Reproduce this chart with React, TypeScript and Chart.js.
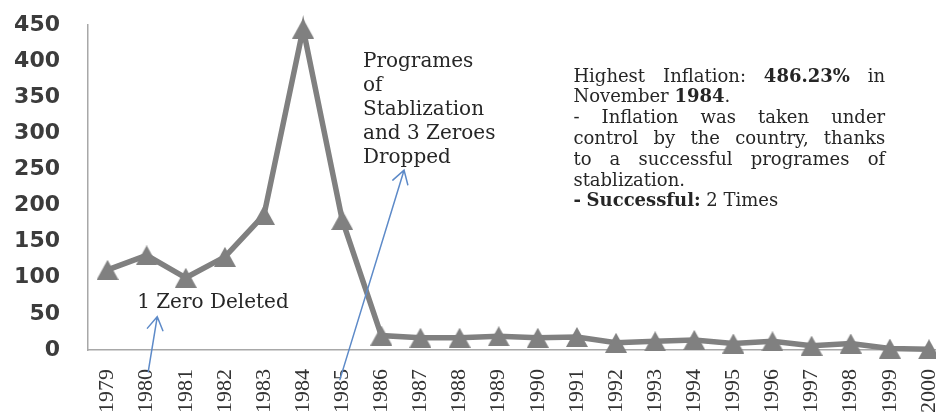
import React, { useEffect, useRef } from 'react';
import { Chart, registerables } from 'chart.js';

Chart.register(...registerables);

// ---- data ----
const years = [
  '1979', '1980', '1981', '1982', '1983', '1984', '1985', '1986', '1987', '1988', '1989',
  '1990', '1991', '1992', '1993', '1994', '1995', '1996', '1997', '1998', '1999', '2000',
];
const inflation = [111, 131, 100, 129, 187, 445, 180, 20, 17, 17, 19, 17, 18, 10, 12, 14, 9, 12, 6, 9, 2, 1];
const yTicks = [0, 50, 100, 150, 200, 250, 300, 350, 400, 450];

const zeroDeletedText = '1 Zero Deleted';
const stabilizationLines = ['Programes', 'of', 'Stablization', 'and 3 Zeroes', 'Dropped'];
const noteLines = [
  'Highest Inflation: **486.23%** in',
  'November **1984**.',
  '- Inflation was taken under',
  'control by the country, thanks',
  'to a successful programes of',
  'stablization.',
  '**- Successful:** 2 Times',
];
const noteJustify = [true, false, true, true, true, false, false];

// ---- styles ----
const LINE_COLOR = '#808080';
const AXIS_COLOR = '#a8a8a8';
const ARROW_COLOR = '#5d8ac8';
const TEXT_COLOR = '#262626';
const SERIF = '"DejaVu Serif", serif';

type Piece = { t: string; b: boolean };

function parseRich(s: string): Piece[][] {
  const words: Piece[][] = [];
  let cur: Piece[] = [];
  s.split('**').forEach((part, pi) => {
    const bold = pi % 2 === 1;
    part.split(' ').forEach((chunk, ci) => {
      if (ci > 0) {
        if (cur.length) words.push(cur);
        cur = [];
      }
      if (chunk) cur.push({ t: chunk, b: bold });
    });
  });
  if (cur.length) words.push(cur);
  return words;
}

function drawRich(ctx: CanvasRenderingContext2D, text: string, x: number, y: number, size: number, justifyWidth?: number) {
  const words = parseRich(text);
  const font = (b: boolean) => `${b ? 'bold ' : ''}${size}px ${SERIF}`;
  const widths = words.map((w) =>
    w.reduce((s, p) => {
      ctx.font = font(p.b);
      return s + ctx.measureText(p.t).width;
    }, 0)
  );
  ctx.font = font(false);
  let gap = ctx.measureText(' ').width;
  if (justifyWidth && words.length > 1) {
    gap = (justifyWidth - widths.reduce((a, b) => a + b, 0)) / (words.length - 1);
  }
  let cx = x;
  words.forEach((w) => {
    w.forEach((p) => {
      ctx.font = font(p.b);
      ctx.fillText(p.t, cx, y);
      cx += ctx.measureText(p.t).width;
    });
    cx += gap;
  });
}

function drawArrow(ctx: CanvasRenderingContext2D, x0: number, y0: number, x1: number, y1: number) {
  const a = Math.atan2(y1 - y0, x1 - x0);
  const len = 15;
  const spread = 0.55;
  ctx.beginPath();
  ctx.moveTo(x0, y0);
  ctx.lineTo(x1, y1);
  ctx.moveTo(x1 - len * Math.cos(a - spread), y1 - len * Math.sin(a - spread));
  ctx.lineTo(x1, y1);
  ctx.lineTo(x1 - len * Math.cos(a + spread), y1 - len * Math.sin(a + spread));
  ctx.stroke();
}

const notesPlugin = {
  id: 'notes',
  afterDraw(chart: any) {
    const { ctx } = chart;
    const xs = chart.scales.x;
    const ys = chart.scales.y;
    const px = (i: number) => xs.getPixelForValue(i);
    const py = (v: number) => ys.getPixelForValue(v);
    const step = px(1) - px(0);
    ctx.save();
    ctx.fillStyle = TEXT_COLOR;
    ctx.textBaseline = 'middle';
    ctx.textAlign = 'left';

    // "1 Zero Deleted"
    ctx.font = `20px ${SERIF}`;
    ctx.fillText(zeroDeletedText, px(0.756), py(65));

    // stabilization block
    stabilizationLines.forEach((line, k) => {
      ctx.font = `20px ${SERIF}`;
      ctx.fillText(line, px(6.53), py(399) + k * 24);
    });

    // right-hand note
    const noteX = px(11.91);
    const noteW = 7.97 * step;
    noteLines.forEach((line, k) => {
      drawRich(ctx, line, noteX, py(378) + k * 20.8, 18, noteJustify[k] ? noteW : undefined);
    });

    // arrows
    ctx.strokeStyle = ARROW_COLOR;
    ctx.lineWidth = 1.5;
    ctx.lineCap = 'round';
    drawArrow(ctx, px(1.04), py(-30), px(1.27), py(46));
    drawArrow(ctx, px(5.94), py(-41), px(7.58), py(249));
    ctx.restore();
  },
};

export default function App() {
  const ref = useRef<HTMLCanvasElement>(null);

  useEffect(() => {
    const tri = document.createElement('canvas');
    tri.width = 22;
    tri.height = 20;
    const tc = tri.getContext('2d')!;
    tc.fillStyle = LINE_COLOR;
    tc.beginPath();
    tc.moveTo(11, 0);
    tc.lineTo(22, 20);
    tc.lineTo(0, 20);
    tc.closePath();
    tc.fill();

    const chart = new Chart(ref.current!, {
      type: 'line',
      data: {
        labels: years,
        datasets: [
          {
            data: inflation,
            borderColor: LINE_COLOR,
            backgroundColor: LINE_COLOR,
            borderWidth: 5.5,
            pointStyle: tri as any,
            pointRadius: 10,
            tension: 0,
            fill: false,
            clip: false,
          },
        ],
      },
      options: {
        responsive: false,
        animation: false,
        layout: { padding: { top: 25, left: 0, right: 0, bottom: 0 } },
        plugins: { legend: { display: false }, tooltip: { enabled: false } },
        scales: {
          x: {
            type: 'category',
            offset: true,
            grid: { display: false, drawTicks: false },
            border: { display: true, color: AXIS_COLOR, width: 1.5 },
            ticks: {
              autoSkip: false,
              maxRotation: 90,
              minRotation: 90,
              padding: 19,
              color: '#333333',
              font: { family: '"Liberation Serif", serif', size: 22 },
            },
            afterFit: (s: any) => {
              s.height = 68;
              s.paddingLeft = 0;
              s.paddingRight = 0;
            },
          },
          y: {
            min: 0,
            max: 450,
            grid: { display: false, drawTicks: false },
            border: { display: true, color: AXIS_COLOR, width: 1.5 },
            ticks: {
              padding: 28,
              color: '#3c3c3c',
              font: { family: '"DejaVu Sans", sans-serif', size: 22, weight: 'bold' },
            },
            afterBuildTicks: (s: any) => {
              s.ticks = yTicks.map((v) => ({ value: v }));
            },
            afterFit: (s: any) => {
              s.width = 88;
              s.paddingTop = 0;
              s.paddingBottom = 0;
            },
          },
        },
      },
      plugins: [notesPlugin],
    } as any);
    return () => chart.destroy();
  }, []);

  return (
    <div style={{ position: 'fixed', left: 0, top: 0, width: 936, height: 418, overflow: 'hidden', background: '#fff' }}>
      <canvas ref={ref} width={964} height={418} style={{ display: 'block' }} />
    </div>
  );
}
